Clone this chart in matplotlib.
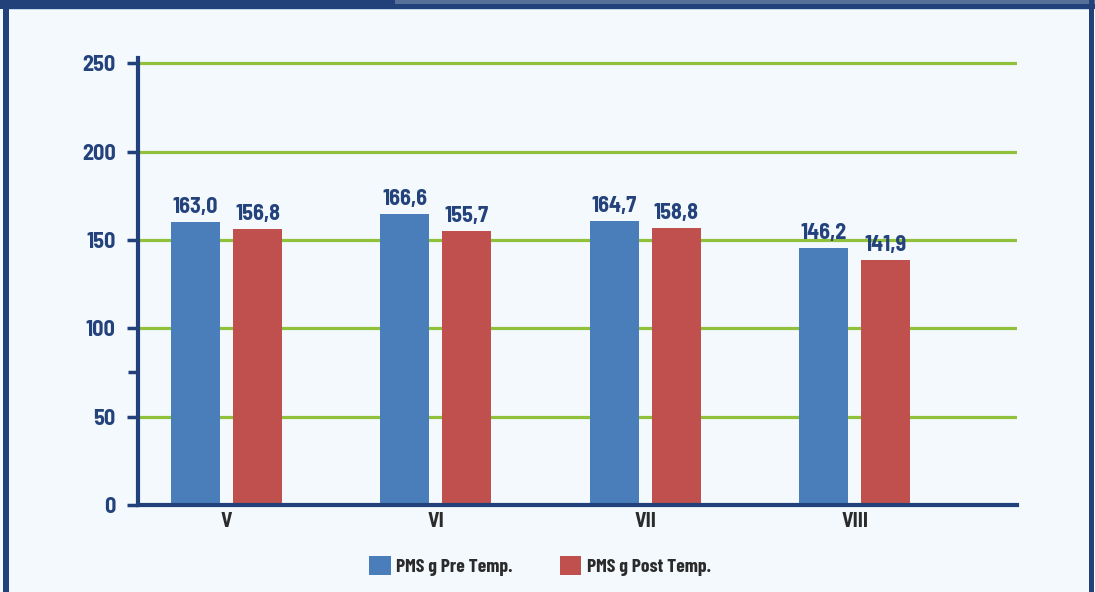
import matplotlib
matplotlib.use("Agg")
import matplotlib.pyplot as plt
import numpy as np
from matplotlib.patches import Rectangle, Polygon

# ---- data ----
categories = ["V", "VI", "VII", "VIII"]
pre_temp = [160.1, 164.6, 160.6, 145.4]
post_temp = [156.1, 155.0, 156.7, 138.6]
pre_labels = ["163,0", "166,6", "164,7", "146,2"]
post_labels = ["156,8", "155,7", "158,8", "141,9"]
series_names = ["PMS g Pre Temp.", "PMS g Post Temp."]
y_ticks = [0, 50, 100, 150, 200, 250]

# ---- style ----
W, H, DPI = 1095, 592, 100
BG = "#f3f9fc"
FRAME = "#22417a"
BLUE = "#4a7ebb"
RED = "#c0504d"
GRID = "#8fc13b"
NAVY = "#24437c"
DARK = "#2b2b2b"
FONT = ["Barlow Condensed", "Liberation Sans Narrow", "DejaVu Sans"]
NUMFONT = ["Barlow Semi Condensed", "Barlow Condensed", "DejaVu Sans"]
plt.rcParams["font.family"] = FONT

fig = plt.figure(figsize=(W / DPI, H / DPI), dpi=DPI, facecolor=BG)

# frame around the panel (figure pixel coords)
def px_rect(x0, y0, x1, y1, color, z=0):
    r = Rectangle((x0 / W, 1 - y1 / H), (x1 - x0) / W, (y1 - y0) / H,
                  transform=fig.transFigure, facecolor=color,
                  edgecolor="none", zorder=z)
    fig.patches.append(r)
    return r

px_rect(0, 0, W, 9, FRAME)
px_rect(395, 0, W, 4, "#56709a")
fig.patches.append(Polygon([(375 / W, 1), (395 / W, 1 - 4 / H), (395 / W, 1)],
                           closed=True, transform=fig.transFigure,
                           facecolor=FRAME, edgecolor="none"))
px_rect(3, 0, 9, H, FRAME)
px_rect(1089, 0, 1094, H, FRAME)
px_rect(9, 9, 1089, 10, "#c6d6ea")

# axes placement
ax_l, ax_r, ax_b, ax_t = 138, 1017, 505, 58
ax = fig.add_axes([ax_l / W, 1 - ax_b / H, (ax_r - ax_l) / W, (ax_b - ax_t) / H])
ax.set_facecolor("none")

x = np.arange(len(categories))
bw = 0.234
off = 0.148
b1 = ax.bar(x - off, pre_temp, bw, color=BLUE, zorder=3, label=series_names[0])
b2 = ax.bar(x + off, post_temp, bw, color=RED, zorder=3, label=series_names[1])

for bars, labs in ((b1, pre_labels), (b2, post_labels)):
    for rect, lab in zip(bars, labs):
        ax.annotate(lab, (rect.get_x() + rect.get_width() / 2, rect.get_height()),
                    xytext=(0, 4), textcoords="offset points", ha="center", va="bottom",
                    fontsize=16, fontweight="bold", color=NAVY, zorder=4,
                    family=NUMFONT)

ax.set_xlim(-0.423, 3.776)
ax.set_ylim(0, 253)
ax.set_yticks(y_ticks)
ax.set_yticks([75], minor=True)
ax.set_xticks(x)
ax.set_xticklabels(categories)

for y in y_ticks[1:]:
    ax.axhline(y, color=GRID, lw=2.3, zorder=1)

for s in ("top", "right"):
    ax.spines[s].set_visible(False)
for s in ("left", "bottom"):
    ax.spines[s].set_color(FRAME)
    ax.spines[s].set_linewidth(3)
    ax.spines[s].set_zorder(5)

ax.tick_params(axis="y", which="major", length=8, width=2.5, color=FRAME, pad=8,
               labelsize=16, labelcolor=NAVY)
ax.tick_params(axis="y", which="minor", length=7, width=2.5, color=FRAME)
for t in ax.get_yticklabels():
    t.set_fontweight("bold")
    t.set_family(NUMFONT)
ax.tick_params(axis="x", length=0, pad=5, labelsize=15, labelcolor=DARK)
for t in ax.get_xticklabels():
    t.set_fontweight("bold")
    t.set_family(NUMFONT)

# legend (drawn as a figure legend with custom square handles)
handles = [Rectangle((0, 0), 1, 1, facecolor=c, edgecolor="none") for c in (BLUE, RED)]
leg = fig.legend(handles=handles, labels=series_names, loc="center",
                 bbox_to_anchor=(540 / W, 1 - 566 / H), ncol=2, frameon=False,
                 prop={"family": FONT, "weight": "bold", "size": 14},
                 handlelength=1.1, handleheight=1.1, handletextpad=0.3,
                 columnspacing=2.4, labelcolor=DARK)

fig.savefig("out.png", dpi=DPI, facecolor=BG)
